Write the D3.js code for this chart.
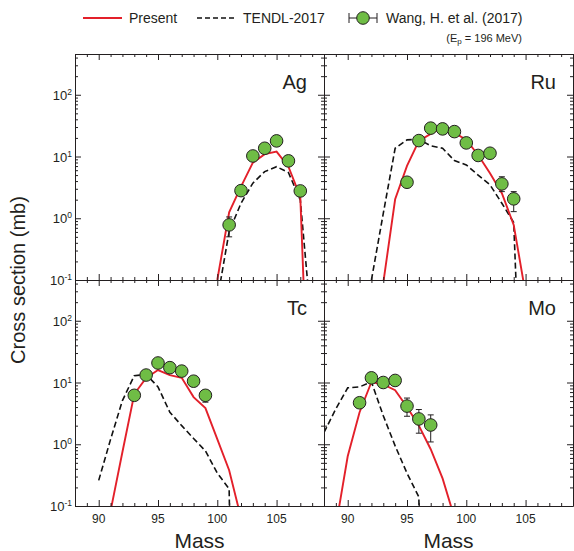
<!DOCTYPE html>
<html lang="en">
<head>
<meta charset="UTF-8">
<title>Cross sections</title>
<script src="https://d3js.org/d3.v7.min.js"></script>
<style>
  body { margin: 0; background: #fff; }
  svg { display: block; font-family: "Liberation Sans", Arial, sans-serif; }
  .axis path, .axis line { stroke: #231f20; stroke-width: 1; }
</style>
</head>
<body>
<svg id="canvas" width="574" height="551"></svg>
<script>
// [mass, cross section (mb)]
const agPresent = [[100,0.1],[101,1.25],[102,3.25],[103,7.96],[104,10.9],[105,12.0],[106,6.85],[107,2.24],[108,0.00002]];
const agTendl   = [[100,0.047],[101,0.61],[102,1.75],[103,3.7],[104,5.7],[105,6.85],[106,5.5],[107,1.98],[108,0.014]];
// [mass, value, low, high]
const agWang    = [[101,0.78,0.5,1.05],[102,2.8,2.6,3.0],[103,10.2,9.5,11],[104,13.6,12.6,14.6],[105,17.9,16.6,19.2],[106,8.5,7.9,9.1],[107,2.77,2.55,3.0]];

const ruPresent = [[93,0.09],[94,2.03],[95,7.05],[96,17.9],[97,23.2],[98,29.9],[99,24.4],[100,18.6],[101,10.6],[102,5.36],[103,2.54],[104,0.78],[105,0.06]];
const ruTendl   = [[92,0.1],[93,1.2],[94,13.6],[95,18.6],[96,19],[97,14.9],[98,13.6],[99,8.6],[100,7.3],[101,5.0],[102,3.47],[103,1.75],[104,0.85],[105,0.00001]];
const ruWang    = [[95,3.83,3.4,4.3],[96,18.1,16.8,19.4],[97,28.8,26.8,30.8],[98,28,26,30],[99,25.3,23.5,27.1],[100,16.6,15.4,17.8],[101,10.4,9.7,11.1],[102,11.3,10.5,12.1],[103,3.6,2.7,4.7],[104,2.06,1.28,2.7]];

const tcPresent = [[91,0.083],[92,0.75],[93,6.5],[94,11.9],[95,15.9],[96,13.2],[97,11.9],[98,5.8],[99,3.85],[100,1.21],[101,0.38],[102,0.064]];
const tcTendl   = [[90,0.26],[91,1.2],[92,5.1],[93,12.9],[94,13.5],[95,8.5],[96,3.3],[97,2.0],[98,1.24],[99,0.78],[100,0.34],[101,0.19],[102,1e-12]];
const tcWang    = [[93,6.2,5.7,6.7],[94,13.2,12.3,14.1],[95,20.7,19.2,22.2],[96,17.4,16.2,18.6],[97,15.3,14.2,16.4],[98,10.5,9.8,11.2],[99,6.2,4.8,7.4]];

const moPresent = [[89,0.047],[90,0.64],[91,3.3],[92,10.2],[93,9.3],[94,7.5],[95,4.0],[96,2.0],[97,0.83],[98,0.28],[99,0.065]];
const moTendl   = [[88,1.55],[89,3.75],[90,8.2],[91,8.5],[92,10.2],[93,2.9],[94,0.94],[95,0.34],[96,0.14],[97,1e-12]];
const moWang    = [[91,4.7,4.3,5.1],[92,11.9,11,12.8],[93,10.0,9.3,10.7],[94,10.8,10,11.6],[95,4.15,2.84,5.6],[96,2.57,1.51,3.65],[97,2.05,1.09,2.99]];

const panelNames = ["Ag","Ru","Tc","Mo"];
const presentSeries = [agPresent, ruPresent, tcPresent, moPresent];
const tendlSeries = [agTendl, ruTendl, tcTendl, moTendl];
const wangSeries = [agWang, ruWang, tcWang, moWang];

const xMajor = [90,95,100,105];
const yMajor = [0.1,1,10,100];
const yLabelExp = ["-1","0","1","2"];

const RED = "#e3202a", GREEN = "#6fbd45", INK = "#231f20";

let svg = d3.select("#canvas");
const pw = 249, ph = 226;
const colX = [75, 324], rowY = [54, 280];

let x = d3.scaleLinear().domain([88,109]).range([0,pw]);
let y = d3.scaleLog().domain([0.1, Math.pow(10,2.66)]).range([ph,0]);

let xMinor = d3.range(88,110).filter(d => xMajor.indexOf(d) < 0);
let yMinor = [];
[0.1,1,10,100].forEach(function(dec){
    d3.range(2,10).forEach(function(k){
        let v = dec*k;
        if (v <= y.domain()[1]) yMinor.push(v);
    });
});

let line = d3.line().x(d => x(d[0])).y(d => y(d[1]));

panelNames.forEach(function(name, i){
    let col = i % 2, row = Math.floor(i / 2);
    let g = svg.append("g").attr("transform", "translate(" + colX[col] + "," + rowY[row] + ")");

    g.append("clipPath").attr("id", "clip" + i)
        .append("rect").attr("width", pw).attr("height", ph);

    let plot = g.append("g").attr("clip-path", "url(#clip" + i + ")");
    plot.append("path").datum(tendlSeries[i])
        .attr("d", line).attr("fill", "none")
        .attr("stroke", "#111").attr("stroke-width", 1.6)
        .attr("stroke-dasharray", "6,3.2");
    plot.append("path").datum(presentSeries[i])
        .attr("d", line).attr("fill", "none")
        .attr("stroke", RED).attr("stroke-width", 1.9);

    // axes, ticks inward on all four sides
    let sides = [
        [d3.axisBottom, "translate(0," + ph + ")", x, xMajor, xMinor],
        [d3.axisTop, "translate(0,0)", x, xMajor, xMinor],
        [d3.axisLeft, "translate(0,0)", y, yMajor, yMinor],
        [d3.axisRight, "translate(" + pw + ",0)", y, yMajor, yMinor]
    ];
    sides.forEach(function(s){
        g.append("g").attr("class", "axis").attr("transform", s[1])
            .call(s[0](s[2]).tickValues(s[3]).tickSize(-6).tickSizeOuter(0).tickFormat(""));
        g.append("g").attr("class", "axis").attr("transform", s[1])
            .call(s[0](s[2]).tickValues(s[4]).tickSize(-3).tickSizeOuter(0).tickFormat(""))
            .select(".domain").remove();
    });

    // data points with error bars
    let pts = g.append("g");
    wangSeries[i].forEach(function(d){
        let cx = x(d[0]);
        pts.append("line").attr("x1", cx).attr("x2", cx)
            .attr("y1", y(d[2])).attr("y2", y(d[3]))
            .attr("stroke", INK).attr("stroke-width", 1);
        [d[2], d[3]].forEach(function(v){
            pts.append("line").attr("x1", cx - 3).attr("x2", cx + 3)
                .attr("y1", y(v)).attr("y2", y(v))
                .attr("stroke", INK).attr("stroke-width", 1);
        });
        pts.append("circle").attr("cx", cx).attr("cy", y(d[1])).attr("r", 6.3)
            .attr("fill", GREEN).attr("stroke", INK).attr("stroke-width", 1);
    });

    g.append("text").attr("x", pw - 17).attr("y", 35)
        .attr("text-anchor", "end").attr("font-size", 20).attr("fill", INK)
        .text(name);

    if (row === 1) {
        g.selectAll(".xl").data(xMajor).enter().append("text")
            .attr("x", d => x(d)).attr("y", ph + 17)
            .attr("text-anchor", "middle").attr("font-size", 12).attr("fill", INK)
            .text(d => d);
        g.append("text").attr("x", pw / 2).attr("y", ph + 42)
            .attr("text-anchor", "middle").attr("font-size", 21).attr("fill", INK)
            .text("Mass");
    }
    if (col === 0) {
        yMajor.forEach(function(v, k){
            let t = g.append("text").attr("x", -3).attr("y", y(v) + 5)
                .attr("text-anchor", "end").attr("font-size", 13).attr("fill", INK);
            t.append("tspan").text("10");
            t.append("tspan").attr("font-size", 8.5).attr("dy", -5).text(yLabelExp[k]);
        });
    }
});

svg.append("text")
    .attr("transform", "translate(25," + (rowY[1]) + ") rotate(-90)")
    .attr("text-anchor", "middle").attr("font-size", 20).attr("fill", INK)
    .text("Cross section (mb)");

// legend
let leg = svg.append("g").attr("font-size", 14).attr("fill", INK);
leg.append("line").attr("x1", 83).attr("x2", 122).attr("y1", 18).attr("y2", 18)
    .attr("stroke", RED).attr("stroke-width", 1.9);
leg.append("text").attr("x", 129).attr("y", 23).text("Present");
leg.append("line").attr("x1", 197).attr("x2", 237).attr("y1", 18).attr("y2", 18)
    .attr("stroke", "#111").attr("stroke-width", 1.6).attr("stroke-dasharray", "5,3");
leg.append("text").attr("x", 243).attr("y", 23).text("TENDL-2017");
leg.append("line").attr("x1", 349).attr("x2", 377).attr("y1", 18).attr("y2", 18)
    .attr("stroke", INK).attr("stroke-width", 1);
[349, 377].forEach(function(px){
    leg.append("line").attr("x1", px).attr("x2", px).attr("y1", 13).attr("y2", 23)
        .attr("stroke", INK).attr("stroke-width", 1);
});
leg.append("circle").attr("cx", 363).attr("cy", 18).attr("r", 6.3)
    .attr("fill", GREEN).attr("stroke", INK).attr("stroke-width", 1);
leg.append("text").attr("x", 386).attr("y", 23).text("Wang, H. et al. (2017)");
let sub = leg.append("text").attr("x", 522).attr("y", 42).attr("text-anchor", "end")
    .attr("font-size", 11);
sub.append("tspan").text("(E");
sub.append("tspan").attr("font-size", 8).attr("dy", 2).text("p");
sub.append("tspan").attr("dy", -2).text(" = 196 MeV)");
</script>
</body>
</html>
